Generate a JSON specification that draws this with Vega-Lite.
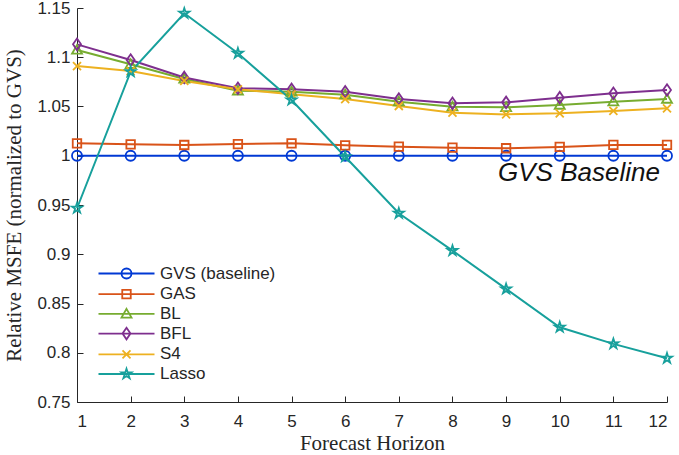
{
  "$schema": "https://vega.github.io/schema/vega-lite/v6.json",
  "autosize": {"type": "none"},
  "padding": {"left": 77, "top": 8, "right": 12, "bottom": 53},
  "width": 590,
  "height": 394,
  "background": "white",
  "config": {
    "view": {"stroke": null},
    "axis": {"grid": false, "domainColor": "#262626", "tickColor": "#262626", "labelColor": "#262626", "labelFont": "Liberation Sans", "labelFontSize": 17, "titleFont": "Liberation Serif", "titleFontSize": 21, "titleFontWeight": "normal", "titleColor": "#262626", "tickSize": -6, "domainWidth": 1, "tickWidth": 1}
  },
  "datasets": {
    "series": [
      {"h": 1, "method": "GVS (baseline)", "v": 1.0},
      {"h": 2, "method": "GVS (baseline)", "v": 1.0},
      {"h": 3, "method": "GVS (baseline)", "v": 1.0},
      {"h": 4, "method": "GVS (baseline)", "v": 1.0},
      {"h": 5, "method": "GVS (baseline)", "v": 1.0},
      {"h": 6, "method": "GVS (baseline)", "v": 1.0},
      {"h": 7, "method": "GVS (baseline)", "v": 1.0},
      {"h": 8, "method": "GVS (baseline)", "v": 1.0},
      {"h": 9, "method": "GVS (baseline)", "v": 1.0},
      {"h": 10, "method": "GVS (baseline)", "v": 1.0},
      {"h": 11, "method": "GVS (baseline)", "v": 1.0},
      {"h": 12, "method": "GVS (baseline)", "v": 1.0},
      {"h": 1, "method": "GAS", "v": 1.0126},
      {"h": 2, "method": "GAS", "v": 1.0116},
      {"h": 3, "method": "GAS", "v": 1.0109},
      {"h": 4, "method": "GAS", "v": 1.0119},
      {"h": 5, "method": "GAS", "v": 1.0126},
      {"h": 6, "method": "GAS", "v": 1.0106},
      {"h": 7, "method": "GAS", "v": 1.0092},
      {"h": 8, "method": "GAS", "v": 1.0082},
      {"h": 9, "method": "GAS", "v": 1.0076},
      {"h": 10, "method": "GAS", "v": 1.009},
      {"h": 11, "method": "GAS", "v": 1.011},
      {"h": 12, "method": "GAS", "v": 1.011},
      {"h": 1, "method": "BL", "v": 1.1074},
      {"h": 2, "method": "BL", "v": 1.0929},
      {"h": 3, "method": "BL", "v": 1.078},
      {"h": 4, "method": "BL", "v": 1.066},
      {"h": 5, "method": "BL", "v": 1.065},
      {"h": 6, "method": "BL", "v": 1.062},
      {"h": 7, "method": "BL", "v": 1.0549},
      {"h": 8, "method": "BL", "v": 1.0498},
      {"h": 9, "method": "BL", "v": 1.0492},
      {"h": 10, "method": "BL", "v": 1.0515},
      {"h": 11, "method": "BL", "v": 1.0549},
      {"h": 12, "method": "BL", "v": 1.0576},
      {"h": 1, "method": "BFL", "v": 1.1131},
      {"h": 2, "method": "BFL", "v": 1.0972},
      {"h": 3, "method": "BFL", "v": 1.0795},
      {"h": 4, "method": "BFL", "v": 1.0685},
      {"h": 5, "method": "BFL", "v": 1.0675},
      {"h": 6, "method": "BFL", "v": 1.065},
      {"h": 7, "method": "BFL", "v": 1.0576},
      {"h": 8, "method": "BFL", "v": 1.0532},
      {"h": 9, "method": "BFL", "v": 1.0542},
      {"h": 10, "method": "BFL", "v": 1.059},
      {"h": 11, "method": "BFL", "v": 1.0634},
      {"h": 12, "method": "BFL", "v": 1.0668},
      {"h": 1, "method": "S4", "v": 1.0911},
      {"h": 2, "method": "S4", "v": 1.086},
      {"h": 3, "method": "S4", "v": 1.0759},
      {"h": 4, "method": "S4", "v": 1.0675},
      {"h": 5, "method": "S4", "v": 1.0624},
      {"h": 6, "method": "S4", "v": 1.0576},
      {"h": 7, "method": "S4", "v": 1.0505},
      {"h": 8, "method": "S4", "v": 1.0437},
      {"h": 9, "method": "S4", "v": 1.042},
      {"h": 10, "method": "S4", "v": 1.0431},
      {"h": 11, "method": "S4", "v": 1.0455},
      {"h": 12, "method": "S4", "v": 1.0482},
      {"h": 1, "method": "Lasso", "v": 0.9467},
      {"h": 2, "method": "Lasso", "v": 1.0853},
      {"h": 3, "method": "Lasso", "v": 1.1446},
      {"h": 4, "method": "Lasso", "v": 1.104},
      {"h": 5, "method": "Lasso", "v": 1.0566},
      {"h": 6, "method": "Lasso", "v": 0.999},
      {"h": 7, "method": "Lasso", "v": 0.9416},
      {"h": 8, "method": "Lasso", "v": 0.9037},
      {"h": 9, "method": "Lasso", "v": 0.8648},
      {"h": 10, "method": "Lasso", "v": 0.8259},
      {"h": 11, "method": "Lasso", "v": 0.809},
      {"h": 12, "method": "Lasso", "v": 0.7944}
    ],
    "notes": [
      {"h": 8.85, "v": 0.9825, "label": "GVS Baseline"}
    ]
  },
  "data": {"name": "series"},
  "encoding": {
    "x": {"field": "h", "type": "quantitative", "scale": {"domain": [1, 12], "nice": false, "zero": false},
      "axis": {"values": [1,2,3,4,5,6,7,8,9,10,11,12], "title": "Forecast Horizon", "labelPadding": 17, "titlePadding": 3}},
    "y": {"field": "v", "type": "quantitative", "scale": {"domain": [0.75, 1.15], "nice": false, "zero": false},
      "axis": {"values": [0.75,0.8,0.85,0.9,0.95,1,1.05,1.1,1.15], "format": "~g", "title": "Relative MSFE (normalized to GVS)", "labelPadding": 13, "titlePadding": 12}}
  },
  "layer": [
    {
      "mark": {"type": "line", "strokeWidth": 2, "clip": false},
      "encoding": {
        "color": {"field": "method", "type": "nominal", "legend": null,
          "scale": {"domain": ["GVS (baseline)", "GAS", "BL", "BFL", "S4", "Lasso"], "range": ["#0039D4", "#D95319", "#77AC30", "#7E2F8E", "#EDB120", "#17A09C"]}}
      }
    },
    {
      "mark": {"type": "point", "filled": false, "strokeWidth": 1.8, "opacity": 1, "size": 100, "clip": false},
      "encoding": {
        "color": {"field": "method", "type": "nominal", "legend": null,
          "scale": {"domain": ["GVS (baseline)", "GAS", "BL", "BFL", "S4", "Lasso"], "range": ["#0039D4", "#D95319", "#77AC30", "#7E2F8E", "#EDB120", "#17A09C"]}},
        "shape": {"field": "method", "type": "nominal", "legend": null,
          "scale": {"domain": ["GVS (baseline)", "GAS", "BL", "BFL", "S4", "Lasso"],
            "range": [
              "circle",
              "M-0.85,-0.85L0.85,-0.85L0.85,0.85L-0.85,0.85Z",
              "M0,-1L1,0.75L-1,0.75Z",
              "M0,-1.15L0.8,0L0,1.15L-0.8,0Z",
              "M-0.8,-0.8L0.8,0.8M-0.8,0.8L0.8,-0.8",
              "M0,-1.05L0.234,-0.322L1.0,-0.324L0.379,0.123L0.617,0.85L0,0.4L-0.617,0.85L-0.379,0.123L-1.0,-0.324L-0.234,-0.322Z"
            ]}}
      }
    },
    {
      "transform": [{"filter": "false"}],
      "mark": {"type": "point", "filled": false, "strokeWidth": 1.8, "opacity": 1, "size": 100},
      "encoding": {
        "color": {"field": "method", "type": "nominal",
          "scale": {"domain": ["GVS (baseline)", "GAS", "BL", "BFL", "S4", "Lasso"], "range": ["#0039D4", "#D95319", "#77AC30", "#7E2F8E", "#EDB120", "#17A09C"]},
          "legend": {"title": null, "orient": "none", "legendX": 41, "legendY": 257, "labelFont": "Liberation Sans", "labelFontSize": 17, "labelColor": "#262626", "labelOffset": 25, "rowPadding": 1.7, "symbolStrokeWidth": 1.8, "symbolSize": 100, "padding": 0,
            "encode": {"symbols": {"update": {"fill": {"value": "transparent"}}}}}},
        "shape": {"field": "method", "type": "nominal",
          "scale": {"domain": ["GVS (baseline)", "GAS", "BL", "BFL", "S4", "Lasso"],
            "range": [
              "M-5.6,0L5.6,0M1,0A1,1 0 1 1 -1,0A1,1 0 1 1 1,0",
              "M-5.6,0L5.6,0M-0.85,-0.85L0.85,-0.85L0.85,0.85L-0.85,0.85Z",
              "M-5.6,0L5.6,0M0,-1L1,0.75L-1,0.75Z",
              "M-5.6,0L5.6,0M0,-1.15L0.8,0L0,1.15L-0.8,0Z",
              "M-5.6,0L5.6,0M-0.8,-0.8L0.8,0.8M-0.8,0.8L0.8,-0.8",
              "M-5.6,0L5.6,0M0,-1.05L0.234,-0.322L1.0,-0.324L0.379,0.123L0.617,0.85L0,0.4L-0.617,0.85L-0.379,0.123L-1.0,-0.324L-0.234,-0.322Z"
            ]},
          "legend": {"title": null, "orient": "none", "legendX": 41, "legendY": 257, "labelFont": "Liberation Sans", "labelFontSize": 17, "labelColor": "#262626", "labelOffset": 25, "rowPadding": 1.7, "symbolStrokeWidth": 1.8, "symbolSize": 100, "padding": 0,
            "encode": {"symbols": {"update": {"fill": {"value": "transparent"}}}}}
        }
      }
    },
    {
      "data": {"name": "notes"},
      "mark": {"type": "text", "font": "Liberation Sans", "fontStyle": "italic", "fontWeight": "normal", "fontSize": 26, "align": "left", "baseline": "middle", "fill": "#111111"},
      "encoding": {
        "text": {"field": "label"}
      }
    }
  ],
  "resolve": {"scale": {"shape": "independent", "color": "independent"}, "legend": {"shape": "independent", "color": "independent"}}
}
